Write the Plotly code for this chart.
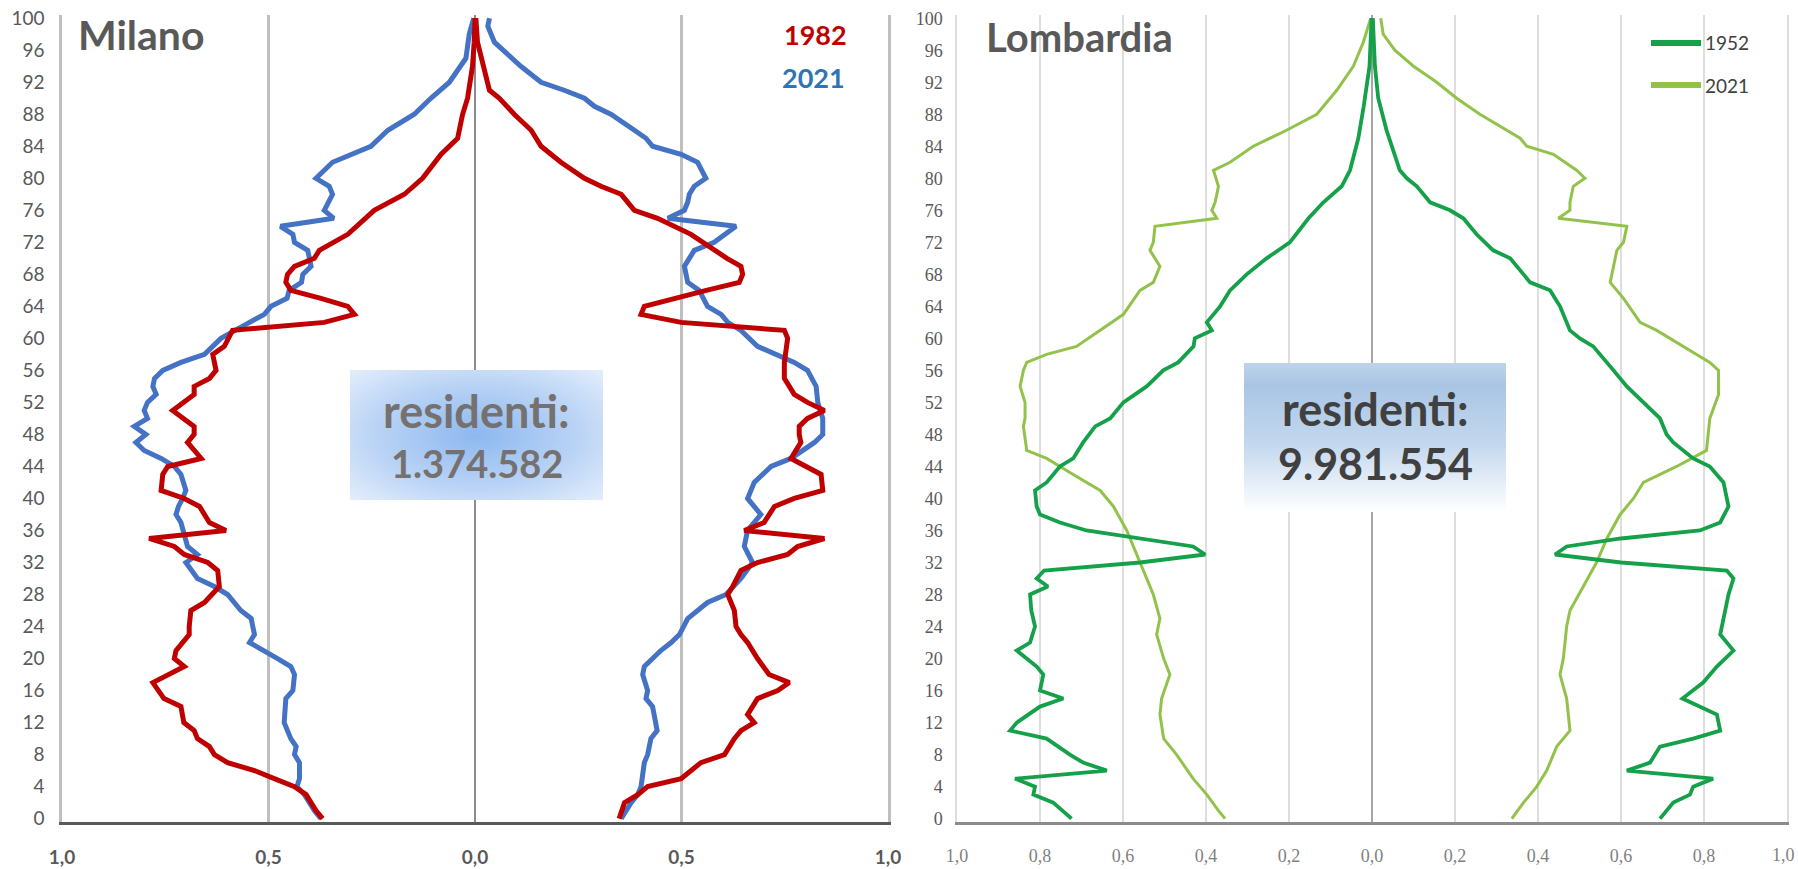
import base64
import plotly.graph_objects as go

W, H = 1798, 869

# ---- Milano (share of residents per single year of age, %) ----
mi21_m_age = [0, 1, 3, 4, 5, 7, 8, 9, 10, 12, 15, 16, 18, 19, 20, 21, 22, 23, 25, 26,
              28, 29, 30, 32, 33, 34, 36, 37, 38, 39, 40, 41, 43, 44, 45, 46, 47, 48, 49, 50,
              51, 52, 53, 54, 55, 56, 57, 58, 60, 61, 62, 63, 64, 65, 66, 67, 68, 69, 71, 72,
              73, 74, 75, 76, 78, 79, 80, 82, 83, 84, 86, 87, 88, 90, 92, 95, 98, 100]
mi21_m = [0.373, 0.389, 0.413, 0.431, 0.425, 0.425, 0.437, 0.433, 0.446, 0.462,
          0.458, 0.441, 0.437, 0.446, 0.478, 0.510, 0.546, 0.534, 0.542, 0.567,
          0.599, 0.631, 0.672, 0.700, 0.672, 0.696, 0.708, 0.712, 0.724, 0.718,
          0.708, 0.700, 0.712, 0.728, 0.760, 0.801, 0.821, 0.797, 0.825, 0.793,
          0.801, 0.793, 0.772, 0.780, 0.776, 0.756, 0.712, 0.655, 0.615, 0.583,
          0.546, 0.510, 0.494, 0.455, 0.450, 0.420, 0.417, 0.397, 0.405, 0.437,
          0.441, 0.471, 0.342, 0.365, 0.345, 0.353, 0.385, 0.345, 0.300, 0.252,
          0.211, 0.179, 0.147, 0.107, 0.062, 0.022, 0.014, 0.003]

mi21_f_age = [0, 2, 3, 4, 7, 8, 10, 11, 14, 15, 16, 18, 19, 21, 22, 23, 25, 27, 28, 30,
              32, 34, 36, 38, 40, 42, 44, 45, 47, 48, 50, 52, 54, 56, 57, 58, 59, 61, 62, 63,
              64, 66, 67, 69, 71, 72, 74, 75, 76, 77, 78, 79, 80, 82, 83, 84, 85, 86, 88, 89,
              90, 91, 92, 94, 96, 97, 99, 100]
mi21_f = [0.354, 0.378, 0.394, 0.402, 0.410, 0.418, 0.426, 0.441, 0.430, 0.414,
          0.418, 0.406, 0.410, 0.450, 0.475, 0.495, 0.515, 0.563, 0.608, 0.644,
          0.672, 0.652, 0.660, 0.692, 0.660, 0.676, 0.717, 0.765, 0.822, 0.842,
          0.842, 0.830, 0.826, 0.805, 0.773, 0.725, 0.684, 0.644, 0.612, 0.596,
          0.563, 0.543, 0.515, 0.507, 0.531, 0.579, 0.632, 0.467, 0.507, 0.515,
          0.519, 0.531, 0.559, 0.539, 0.499, 0.430, 0.414, 0.386, 0.329, 0.289,
          0.265, 0.216, 0.160, 0.111, 0.071, 0.047, 0.031, 0.035]

mi82_m_age = [0, 1, 3, 4, 5, 6, 7, 8, 9, 10, 11, 12, 14, 15, 17, 18, 19, 20, 21, 23,
              24, 26, 27, 29, 31, 32, 33, 34, 35, 36, 37, 39, 40, 41, 43, 44, 45, 47, 48, 49,
              50, 51, 53, 54, 55, 56, 58, 59, 61, 62, 63, 64, 65, 66, 67, 68, 69, 70, 71, 72,
              73, 76, 78, 80, 83, 85, 88, 90, 94, 97, 100]
mi82_m = [0.369, 0.385, 0.409, 0.437, 0.486, 0.534, 0.599, 0.631, 0.643, 0.672,
          0.680, 0.705, 0.712, 0.753, 0.780, 0.744, 0.704, 0.728, 0.724, 0.692,
          0.692, 0.688, 0.655, 0.619, 0.623, 0.647, 0.704, 0.728, 0.789, 0.603,
          0.643, 0.667, 0.704, 0.760, 0.756, 0.744, 0.663, 0.696, 0.680, 0.680,
          0.704, 0.732, 0.680, 0.680, 0.643, 0.627, 0.635, 0.607, 0.587, 0.365,
          0.292, 0.308, 0.373, 0.446, 0.458, 0.454, 0.437, 0.389, 0.377, 0.341,
          0.308, 0.244, 0.171, 0.127, 0.082, 0.042, 0.030, 0.018, 0.006, 0.002, 0.000]

mi82_f_age = [0, 1, 2, 3, 4, 5, 7, 8, 10, 11, 12, 13, 15, 16, 17, 18, 20, 22, 23, 24,
              26, 28, 29, 31, 32, 33, 34, 35, 36, 37, 39, 40, 41, 43, 45, 47, 48, 49, 50, 51,
              52, 53, 55, 57, 59, 60, 61, 62, 63, 64, 66, 67, 68, 69, 70, 72, 73, 75, 76, 78,
              79, 80, 82, 84, 86, 88, 90, 91, 94, 97, 100]
mi82_f = [0.349, 0.354, 0.362, 0.394, 0.418, 0.499, 0.547, 0.604, 0.628, 0.644,
          0.676, 0.660, 0.684, 0.733, 0.761, 0.712, 0.684, 0.660, 0.644, 0.632,
          0.628, 0.612, 0.624, 0.644, 0.684, 0.757, 0.781, 0.846, 0.652, 0.700,
          0.725, 0.773, 0.842, 0.838, 0.765, 0.789, 0.785, 0.785, 0.805, 0.846,
          0.805, 0.773, 0.749, 0.749, 0.753, 0.757, 0.749, 0.499, 0.402, 0.410,
          0.560, 0.640, 0.648, 0.644, 0.610, 0.555, 0.523, 0.442, 0.386, 0.354,
          0.305, 0.265, 0.208, 0.160, 0.136, 0.095, 0.059, 0.035, 0.019, 0.006, 0.002]

# ---- Lombardia ----
lo52_m_age = [0, 2, 3, 4, 5, 6, 7, 8, 10, 11, 12, 14, 15, 16, 18, 19, 21, 22, 24, 26,
              28, 29, 30, 31, 32, 33, 34, 35, 36, 37, 38, 39, 41, 42, 44, 45, 47, 49, 50, 52,
              54, 56, 57, 59, 60, 61, 62, 64, 66, 68, 70, 72, 75, 77, 79, 81, 85, 89, 94, 100]
lo52_m = [0.724, 0.768, 0.816, 0.812, 0.860, 0.639, 0.696, 0.728, 0.784, 0.872,
          0.856, 0.800, 0.744, 0.800, 0.792, 0.808, 0.856, 0.824, 0.812, 0.821,
          0.824, 0.781, 0.808, 0.790, 0.559, 0.402, 0.431, 0.559, 0.688, 0.752,
          0.800, 0.808, 0.812, 0.784, 0.752, 0.720, 0.696, 0.667, 0.631, 0.599,
          0.543, 0.503, 0.467, 0.430, 0.427, 0.386, 0.398, 0.366, 0.342, 0.302,
          0.254, 0.198, 0.153, 0.117, 0.073, 0.053, 0.033, 0.020, 0.006, 0.001]

lo52_f_age = [0, 2, 3, 4, 5, 6, 7, 9, 10, 11, 13, 15, 17, 19, 21, 23, 25, 28, 30, 31,
              32, 33, 34, 35, 36, 37, 39, 42, 44, 45, 47, 48, 50, 52, 54, 56, 59, 60, 61, 64,
              66, 67, 70, 71, 73, 75, 76, 77, 79, 80, 81, 86, 90, 94, 100]
lo52_f = [0.694, 0.726, 0.766, 0.774, 0.822, 0.614, 0.670, 0.694, 0.774, 0.839,
          0.831, 0.748, 0.798, 0.831, 0.871, 0.839, 0.847, 0.859, 0.871, 0.855,
          0.600, 0.441, 0.469, 0.600, 0.790, 0.839, 0.859, 0.847, 0.814, 0.774,
          0.726, 0.710, 0.694, 0.654, 0.614, 0.582, 0.533, 0.501, 0.477, 0.453,
          0.429, 0.381, 0.333, 0.292, 0.252, 0.220, 0.188, 0.140, 0.108, 0.084,
          0.067, 0.035, 0.015, 0.007, 0.002]

lo21_m_age = [0, 1, 3, 5, 8, 10, 13, 15, 18, 20, 23, 25, 28, 30, 32, 34, 36, 39, 41, 43,
              45, 46, 49, 50, 52, 54, 56, 57, 58, 59, 61, 63, 66, 67, 69, 71, 72, 74, 75, 76,
              77, 79, 81, 82, 84, 86, 88, 91, 94, 97, 100]
lo21_m = [0.354, 0.370, 0.398, 0.431, 0.471, 0.502, 0.511, 0.507, 0.487, 0.502,
          0.519, 0.511, 0.527, 0.543, 0.559, 0.575, 0.591, 0.623, 0.655, 0.720,
          0.784, 0.832, 0.840, 0.836, 0.836, 0.848, 0.840, 0.832, 0.784, 0.712,
          0.655, 0.599, 0.559, 0.527, 0.511, 0.535, 0.527, 0.523, 0.374, 0.386,
          0.378, 0.370, 0.382, 0.342, 0.286, 0.206, 0.133, 0.085, 0.045, 0.021, 0.003]

lo21_f_age = [0, 2, 4, 6, 9, 11, 15, 18, 20, 24, 26, 29, 32, 35, 38, 40, 42, 44, 46, 48,
              50, 53, 56, 57, 59, 61, 62, 65, 67, 69, 71, 72, 74, 75, 76, 77, 79, 80, 81, 83,
              84, 85, 88, 90, 92, 94, 96, 98, 100]
lo21_f = [0.337, 0.365, 0.397, 0.421, 0.445, 0.477, 0.469, 0.453, 0.461, 0.469,
          0.477, 0.509, 0.541, 0.566, 0.598, 0.630, 0.654, 0.734, 0.806, 0.810,
          0.814, 0.835, 0.835, 0.814, 0.750, 0.686, 0.646, 0.606, 0.574, 0.582,
          0.590, 0.606, 0.614, 0.449, 0.477, 0.477, 0.485, 0.513, 0.493, 0.437,
          0.373, 0.357, 0.260, 0.204, 0.156, 0.100, 0.055, 0.027, 0.021]

left_ticks = [-1, -0.5, 0, 0.5, 1]
left_ticktext = ["<b>1,0</b>", "<b>0,5</b>", "<b>0,0</b>", "<b>0,5</b>", "<b>1,0</b>"]
right_ticks = [-1, -0.8, -0.6, -0.4, -0.2, 0, 0.2, 0.4, 0.6, 0.8, 1]
# last label is drawn as a right-aligned note so it stays inside the page
right_ticktext = ["1,0", "0,8", "0,6", "0,4", "0,2", "0,0", "0,2", "0,4", "0,6", "0,8", ""]
age_ticks = list(range(0, 101, 4))

RED, BLUE = "#c00000", "#4472c4"
DKGREEN, LTGREEN = "#15a04a", "#93c24b"


def px(X, Y):
    return X / W, 1 - Y / H


fig = go.Figure()


def add_line(ages, vals, male, color, width, xa, ya):
    xs = [-v for v in vals] if male else vals
    fig.add_trace(go.Scatter(
        x=xs, y=ages, mode="lines", line=dict(color=color, width=width),
        xaxis=xa, yaxis=ya, showlegend=False, hoverinfo="skip"))


# Milano: 2021 under 1982
add_line(mi21_m_age, mi21_m, True, BLUE, 5, "x", "y")
add_line(mi21_f_age, mi21_f, False, BLUE, 5, "x", "y")
add_line(mi82_m_age, mi82_m, True, RED, 5, "x", "y")
add_line(mi82_f_age, mi82_f, False, RED, 5, "x", "y")

# Lombardia: 2021 under 1952
add_line(lo21_m_age, lo21_m, True, LTGREEN, 3, "x2", "y2")
add_line(lo21_f_age, lo21_f, False, LTGREEN, 3, "x2", "y2")
add_line(lo52_m_age, lo52_m, True, DKGREEN, 3.8, "x2", "y2")
add_line(lo52_f_age, lo52_f, False, DKGREEN, 3.8, "x2", "y2")

ydom = [1 - 822 / H, 1 - 15 / H]
yrange = [-0.42, 100.4]


def svg_uri(svg):
    return "data:image/svg+xml;base64," + base64.b64encode(svg.encode()).decode()


box_left = svg_uri(
    '<svg xmlns="http://www.w3.org/2000/svg" width="253" height="130" viewBox="0 0 253 130" '
    'preserveAspectRatio="none"><defs><radialGradient id="g" cx="50%" cy="50%" r="72%">'
    '<stop offset="0" stop-color="#8db8ef"/><stop offset="0.55" stop-color="#b9d3f5"/>'
    '<stop offset="1" stop-color="#e6effc"/></radialGradient></defs>'
    '<rect width="253" height="130" fill="url(#g)"/></svg>')
box_right = svg_uri(
    '<svg xmlns="http://www.w3.org/2000/svg" width="262" height="149" viewBox="0 0 262 149" '
    'preserveAspectRatio="none"><defs><linearGradient id="g" x1="0" y1="0" x2="0" y2="1">'
    '<stop offset="0" stop-color="#bfd3ea"/><stop offset="0.15" stop-color="#aac5e4"/>'
    '<stop offset="0.55" stop-color="#c4d8ee"/><stop offset="1" stop-color="#ffffff"/>'
    '</linearGradient></defs>'
    '<rect width="262" height="149" fill="url(#g)"/></svg>')

images = []
for src, X, Y, w, h in [(box_left, 350, 370, 253, 130), (box_right, 1244, 363, 262, 149)]:
    x0, y0 = px(X, Y)
    images.append(dict(source=src, xref="paper", yref="paper", x=x0, y=y0,
                       sizex=w / W, sizey=h / H, xanchor="left", yanchor="top",
                       sizing="stretch", layer="above"))


def note(text, X, Y, size, color, anchor="center", family="Lato"):
    x0, y0 = px(X, Y)
    return dict(text=text, x=x0, y=y0, xref="paper", yref="paper", showarrow=False,
                xanchor=anchor, yanchor="middle",
                font=dict(family=family, size=size, color=color))


annotations = [
    note("<b>Milano</b>", 76, 34, 41, "#595959", "left"),
    note("<b>1982</b>", 815, 34, 27, RED),
    note("<b>2021</b>", 813, 78, 27, "#2e75b6"),
    note("<b>residenti:</b>", 476, 411, 45, "#757171"),
    note("<b>1.374.582</b>", 477, 463, 38, "#757171"),
    note("<b>Lombardia</b>", 984, 37, 40, "#595959", "left"),
    note("<b>residenti:</b>", 1375, 409, 45, "#404040"),
    note("<b>9.981.554</b>", 1375, 463, 43, "#404040"),
    note("1952", 1703, 43, 19, "#404040", "left"),
    note("2021", 1703, 85, 19, "#404040", "left"),
    note("1,0", 1797, 855, 18, "#7f7f7f", "right", "Liberation Serif"),
]

# legend samples for Lombardia
shapes = []
for Y, col in [(43, DKGREEN), (85, LTGREEN)]:
    x0, y0 = px(1651, Y)
    x1, _ = px(1701, Y)
    shapes.append(dict(type="line", xref="paper", yref="paper", x0=x0, x1=x1, y0=y0, y1=y0,
                       line=dict(color=col, width=6)))

fig.update_layout(
    width=W, height=H, template="none",
    margin=dict(l=0, r=0, t=0, b=0, pad=0),
    paper_bgcolor="white", plot_bgcolor="rgba(0,0,0,0)",
    font=dict(family="Lato", color="#595959"),
    showlegend=False,
    xaxis=dict(domain=[62 / W, 888 / W], range=[-1, 1], tickvals=left_ticks,
               ticktext=left_ticktext, tickfont=dict(size=19, color="#595959"),
               ticks="outside", ticklen=16, tickcolor="rgba(0,0,0,0)",
               showgrid=True, gridcolor="#bfbfbf", gridwidth=2.5,
               zeroline=True, zerolinecolor="#8c8c8c", zerolinewidth=2,
               showline=True, linecolor="#595959", linewidth=3,
               automargin=False, fixedrange=True),
    yaxis=dict(domain=ydom, range=yrange, tickvals=age_ticks, anchor="x",
               tickfont=dict(size=19, color="#595959"),
               ticks="outside", ticklen=11, tickcolor="rgba(0,0,0,0)",
               showgrid=False, zeroline=False,
               showline=True, linecolor="#bfbfbf", linewidth=2.5, mirror=True,
               automargin=False, fixedrange=True),
    xaxis2=dict(domain=[957 / W, 1787 / W], range=[-1, 1], tickvals=right_ticks,
                ticktext=right_ticktext, anchor="y2",
                tickfont=dict(family="Liberation Serif", size=18, color="#7f7f7f"),
                ticks="outside", ticklen=16, tickcolor="rgba(0,0,0,0)",
                showgrid=True, gridcolor="#dedede", gridwidth=1.5,
                zeroline=True, zerolinecolor="#a6a6a6", zerolinewidth=2,
                showline=True, linecolor="#8c8c8c", linewidth=2.5,
                automargin=False, fixedrange=True),
    yaxis2=dict(domain=ydom, range=yrange, tickvals=age_ticks, anchor="x2",
                tickfont=dict(family="Liberation Serif", size=18, color="#595959"),
                ticks="outside", ticklen=9, tickcolor="rgba(0,0,0,0)",
                showgrid=False, zeroline=False,
                showline=True, linecolor="#dedede", linewidth=1.5, mirror=True,
                automargin=False, fixedrange=True),
    images=images,
    shapes=shapes,
    annotations=annotations,
)

fig.write_html("out.html", config={"displayModeBar": False},
               post_script="document.body.style.margin='0';document.body.style.overflow='hidden';")
